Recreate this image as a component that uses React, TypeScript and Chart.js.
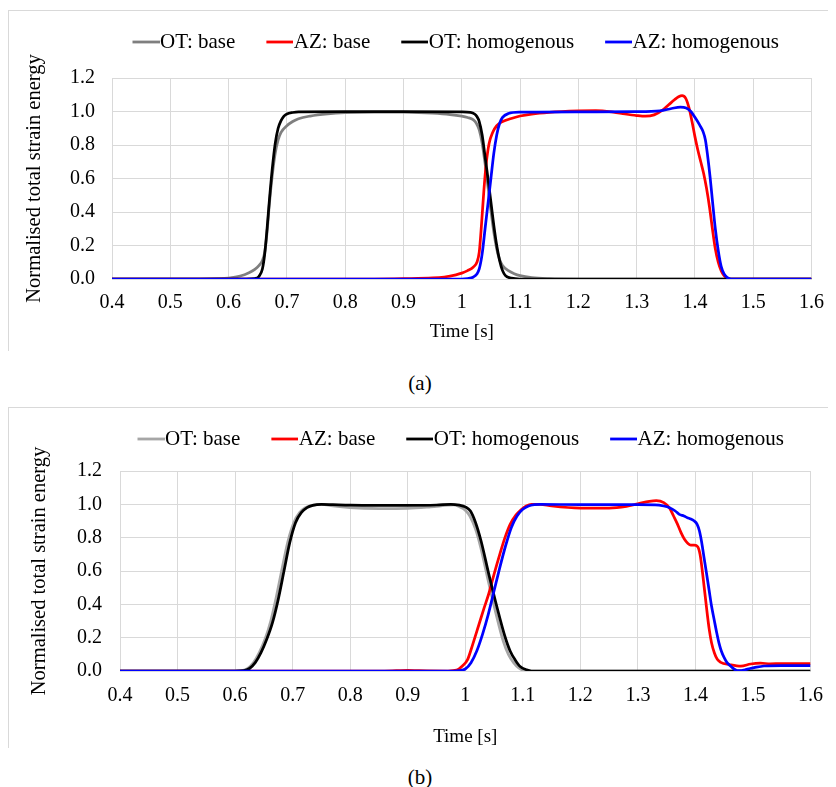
import { useEffect, useRef } from 'react';
import { Chart, registerables } from 'chart.js';

Chart.register(...registerables);

type Pt = [number, number];

// ---------- labels ----------
const seriesLabels = ['OT: base', 'AZ: base', 'OT: homogenous', 'AZ: homogenous'];
const xTickValues = [0.4, 0.5, 0.6, 0.7, 0.8, 0.9, 1.0, 1.1, 1.2, 1.3, 1.4, 1.5, 1.6];
const xTickLabels = ['0.4', '0.5', '0.6', '0.7', '0.8', '0.9', '1', '1.1', '1.2', '1.3', '1.4', '1.5', '1.6'];
const yTickValues = [0, 0.2, 0.4, 0.6, 0.8, 1.0, 1.2];
const yTickLabels = ['0.0', '0.2', '0.4', '0.6', '0.8', '1.0', '1.2'];
const xAxisTitle = 'Time [s]';
const yAxisTitle = 'Normalised total strain energy';
const captions = ['(a)', '(b)'];

// ---------- panel (a) data: [time s, normalised energy] ----------
const otBaseA: Pt[] = [
  [0.4, 0], [0.55, 0], [0.58, 0.002], [0.6, 0.006], [0.62, 0.018], [0.635, 0.038], [0.645, 0.058],
  [0.652, 0.08], [0.658, 0.11], [0.662, 0.16], [0.666, 0.28], [0.67, 0.45], [0.675, 0.62], [0.68, 0.75],
  [0.685, 0.83], [0.69, 0.875], [0.7, 0.915], [0.71, 0.94], [0.72, 0.957], [0.74, 0.973], [0.77, 0.986],
  [0.8, 0.993], [0.85, 0.997], [0.9, 0.996], [0.95, 0.99], [0.98, 0.982], [1.0, 0.972], [1.01, 0.964],
  [1.02, 0.95], [1.025, 0.93], [1.03, 0.89], [1.035, 0.81], [1.04, 0.69], [1.045, 0.55], [1.05, 0.41],
  [1.055, 0.28], [1.06, 0.18], [1.065, 0.115], [1.07, 0.08], [1.08, 0.05], [1.09, 0.032], [1.1, 0.02],
  [1.12, 0.008], [1.15, 0.002], [1.2, 0], [1.6, 0],
];
const azBaseA: Pt[] = [
  [0.4, 0], [0.85, 0], [0.9, 0.002], [0.95, 0.006], [0.97, 0.012], [0.99, 0.025], [1.0, 0.035],
  [1.01, 0.05], [1.02, 0.072], [1.026, 0.1], [1.03, 0.16], [1.034, 0.33], [1.038, 0.53], [1.042, 0.69],
  [1.047, 0.81], [1.053, 0.875], [1.06, 0.915], [1.07, 0.94], [1.085, 0.958], [1.1, 0.973], [1.12, 0.985],
  [1.15, 0.995], [1.2, 1.003], [1.23, 1.005], [1.26, 0.996], [1.28, 0.985], [1.3, 0.976], [1.315, 0.972],
  [1.33, 0.98], [1.345, 1.01], [1.355, 1.04], [1.365, 1.07], [1.372, 1.088], [1.378, 1.095], [1.384, 1.08],
  [1.39, 1.02], [1.395, 0.94], [1.4, 0.85], [1.405, 0.77], [1.41, 0.7], [1.415, 0.63], [1.42, 0.54],
  [1.425, 0.43], [1.43, 0.3], [1.435, 0.18], [1.44, 0.1], [1.445, 0.05], [1.45, 0.02], [1.455, 0.006],
  [1.46, 0], [1.6, 0],
];
const otHomA: Pt[] = [
  [0.4, 0], [0.63, 0], [0.645, 0.003], [0.652, 0.015], [0.658, 0.06], [0.662, 0.15], [0.666, 0.3],
  [0.67, 0.47], [0.675, 0.66], [0.68, 0.81], [0.685, 0.9], [0.69, 0.945], [0.695, 0.972], [0.7, 0.985],
  [0.71, 0.994], [0.72, 0.998], [0.8, 0.999], [0.9, 0.999], [1.0, 0.998], [1.015, 0.995], [1.022, 0.985],
  [1.026, 0.97], [1.03, 0.94], [1.035, 0.86], [1.04, 0.73], [1.045, 0.6], [1.05, 0.46], [1.055, 0.32],
  [1.06, 0.2], [1.065, 0.11], [1.07, 0.05], [1.075, 0.02], [1.085, 0.005], [1.1, 0], [1.6, 0],
];
const azHomA: Pt[] = [
  [0.4, 0], [1.0, 0], [1.01, 0.003], [1.02, 0.012], [1.026, 0.03], [1.03, 0.06], [1.035, 0.15],
  [1.04, 0.3], [1.045, 0.45], [1.05, 0.6], [1.055, 0.75], [1.06, 0.86], [1.065, 0.93], [1.07, 0.965],
  [1.08, 0.988], [1.1, 0.996], [1.2, 0.998], [1.3, 0.999], [1.34, 1.004], [1.36, 1.018], [1.375, 1.026],
  [1.385, 1.021], [1.393, 1.0], [1.4, 0.965], [1.408, 0.92], [1.414, 0.88], [1.418, 0.83], [1.422, 0.73],
  [1.426, 0.61], [1.43, 0.47], [1.435, 0.3], [1.44, 0.17], [1.445, 0.075], [1.45, 0.03], [1.455, 0.01],
  [1.462, 0], [1.6, 0],
];

// ---------- panel (b) data ----------
const otBaseB: Pt[] = [
  [0.4, 0], [0.6, 0], [0.612, 0.002], [0.622, 0.015], [0.632, 0.05], [0.642, 0.11], [0.652, 0.19],
  [0.662, 0.3], [0.672, 0.45], [0.682, 0.62], [0.692, 0.78], [0.702, 0.89], [0.712, 0.95], [0.722, 0.98],
  [0.735, 0.995], [0.75, 1.0], [0.77, 0.99], [0.8, 0.98], [0.85, 0.975], [0.9, 0.976], [0.94, 0.985],
  [0.97, 0.995], [0.98, 0.997], [0.99, 0.985], [1.0, 0.965], [1.008, 0.93], [1.018, 0.85], [1.027, 0.74],
  [1.04, 0.54], [1.053, 0.35], [1.066, 0.18], [1.075, 0.1], [1.084, 0.05], [1.093, 0.018], [1.1, 0.005],
  [1.11, 0], [1.6, 0],
];
const azBaseB: Pt[] = [
  [0.4, 0], [0.85, 0], [0.88, 0.002], [0.9, 0.004], [0.92, 0.002], [0.97, 0], [0.985, 0.005],
  [0.995, 0.03], [1.004, 0.068], [1.013, 0.16], [1.023, 0.27], [1.032, 0.37], [1.041, 0.465], [1.05, 0.58],
  [1.06, 0.7], [1.069, 0.8], [1.078, 0.88], [1.088, 0.935], [1.097, 0.968], [1.106, 0.99], [1.115, 1.0],
  [1.13, 1.0], [1.15, 0.99], [1.2, 0.978], [1.25, 0.978], [1.28, 0.988], [1.3, 1.003], [1.32, 1.018],
  [1.332, 1.022], [1.345, 1.01], [1.355, 0.978], [1.362, 0.93], [1.369, 0.88], [1.375, 0.83], [1.381, 0.79],
  [1.387, 0.765], [1.392, 0.755], [1.398, 0.755], [1.404, 0.745], [1.408, 0.7], [1.412, 0.6], [1.415, 0.51],
  [1.418, 0.42], [1.421, 0.33], [1.424, 0.25], [1.428, 0.17], [1.433, 0.108], [1.438, 0.07], [1.444, 0.052],
  [1.459, 0.039], [1.479, 0.029], [1.496, 0.042], [1.513, 0.047], [1.53, 0.043], [1.55, 0.045], [1.6, 0.045],
];
const otHomB: Pt[] = [
  [0.4, 0], [0.6, 0], [0.615, 0.002], [0.625, 0.015], [0.635, 0.05], [0.645, 0.11], [0.655, 0.19],
  [0.665, 0.29], [0.675, 0.43], [0.685, 0.6], [0.695, 0.77], [0.705, 0.89], [0.715, 0.95], [0.725, 0.98],
  [0.735, 0.994], [0.75, 1.0], [0.77, 0.998], [0.8, 0.995], [0.85, 0.994], [0.9, 0.994], [0.95, 0.996],
  [0.975, 1.0], [0.99, 0.995], [1.0, 0.985], [1.009, 0.96], [1.018, 0.89], [1.0275, 0.78], [1.041, 0.58],
  [1.055, 0.385], [1.069, 0.207], [1.078, 0.12], [1.087, 0.065], [1.096, 0.025], [1.106, 0.008], [1.115, 0],
  [1.6, 0],
];
const azHomB: Pt[] = [
  [0.4, 0], [0.98, 0], [0.99, 0.003], [1.0, 0.012], [1.01, 0.05], [1.02, 0.12], [1.03, 0.22], [1.04, 0.34],
  [1.05, 0.48], [1.06, 0.62], [1.07, 0.75], [1.08, 0.86], [1.09, 0.93], [1.1, 0.97], [1.11, 0.99],
  [1.12, 0.998], [1.13, 1.0], [1.2, 0.998], [1.3, 0.998], [1.33, 0.997], [1.345, 0.99], [1.355, 0.98],
  [1.365, 0.96], [1.372, 0.94], [1.38, 0.93], [1.386, 0.92], [1.392, 0.912], [1.398, 0.9], [1.403, 0.88],
  [1.407, 0.84], [1.411, 0.77], [1.415, 0.68], [1.42, 0.57], [1.424, 0.48], [1.428, 0.39], [1.433, 0.3],
  [1.437, 0.23], [1.441, 0.167], [1.445, 0.12], [1.45, 0.08], [1.455, 0.05], [1.461, 0.03], [1.467, 0.012],
  [1.473, 0.003], [1.48, 0.003], [1.485, 0.006], [1.495, 0.015], [1.502, 0.02], [1.519, 0.03], [1.55, 0.033],
  [1.6, 0.033],
];

// ---------- styling ----------
const FONT = '"Liberation Serif", "Times New Roman", serif';
const GRID = '#d9d9d9';
const CANVAS_W = 827;
const CANVAS_H = 340;

interface PanelSpec {
  series: Pt[][];
  colors: string[];
  top: number; // panel top in root coords
  plotLeft: number;
  plotRight: number;
  plotTop: number;
  plotBottom: number;
  xTickPad: number;
  xTitlePad: number;
  yTickPad: number;
  yTitlePad: number;
  legendLeft: number;
  legendTop: number;
}

const panels: PanelSpec[] = [
  {
    series: [otBaseA, azBaseA, otHomA, azHomA],
    colors: ['#7f7f7f', '#ff0000', '#000000', '#0000ff'],
    top: 2,
    plotLeft: 103,
    plotRight: 805,
    plotTop: 67,
    plotBottom: 268,
    xTickPad: 12,
    xTitlePad: 8,
    yTickPad: 17,
    yTitlePad: 13,
    legendLeft: 92.5,
    legendTop: 10.5,
  },
  {
    series: [otBaseB, azBaseB, otHomB, azHomB],
    colors: ['#a6a6a6', '#ff0000', '#000000', '#0000ff'],
    top: 399,
    plotLeft: 111,
    plotRight: 805,
    plotTop: 63,
    plotBottom: 263,
    xTickPad: 13,
    xTitlePad: 0,
    yTickPad: 18,
    yTitlePad: 18.5,
    legendLeft: 97.5,
    legendTop: 10.5,
  },
];

function makeSwatch(color: string): HTMLCanvasElement {
  const c = document.createElement('canvas');
  c.width = 58;
  c.height = 6;
  const ctx = c.getContext('2d')!;
  ctx.fillStyle = color;
  ctx.fillRect(31, 1.6, 27, 2.8);
  return c;
}

const legendPlacer = {
  id: 'legendPlacer',
  beforeLayout(chart: any) {
    const lg = chart.legend;
    if (lg && !lg.__placed) {
      const orig = lg.fit;
      lg.fit = function (this: any) {
        orig.call(this);
        this.height = 0;
      };
      lg.__placed = true;
    }
  },
  afterLayout(chart: any, _args: any, opts: any) {
    const lg = chart.legend;
    if (!lg) return;
    lg.left = opts.left;
    lg.right = opts.left + opts.width;
    lg.top = opts.top;
    lg.bottom = opts.top + opts.height;
    lg.width = opts.width;
    lg.height = opts.height;
  },
};

function Panel({ spec }: { spec: PanelSpec }) {
  const ref = useRef<HTMLCanvasElement>(null);
  useEffect(() => {
    const canvas = ref.current!;
    const swatches = spec.colors.map(makeSwatch);
    const chart = new Chart(canvas, {
      type: 'line',
      data: {
        datasets: spec.series.map((pts, i) => ({
          label: seriesLabels[i],
          data: pts.map(([x, y]) => ({ x, y })),
          borderColor: spec.colors[i],
          backgroundColor: spec.colors[i],
          borderWidth: 2.75,
          pointRadius: 0,
          pointHoverRadius: 0,
          fill: false,
          cubicInterpolationMode: 'monotone' as const,
          order: 4 - i,
        })),
      },
      options: {
        responsive: false,
        animation: false,
        events: [],
        layout: {
          padding: { top: spec.plotTop, left: 0, right: CANVAS_W - spec.plotRight, bottom: 0 },
        },
        plugins: {
          legend: {
            display: true,
            position: 'top',
            align: 'start',
            labels: {
              usePointStyle: true,
              pointStyleWidth: 38,
              padding: 10,
              color: '#000',
              font: { family: FONT, size: 21 },
              generateLabels: (ch: any) =>
                ch.data.datasets.map((ds: any, i: number) => ({
                  text: ds.label,
                  fillStyle: ds.borderColor,
                  strokeStyle: ds.borderColor,
                  lineWidth: 0,
                  pointStyle: swatches[i],
                  hidden: false,
                  datasetIndex: i,
                  fontColor: '#000',
                })),
            },
          },
          tooltip: { enabled: false },
          // @ts-ignore custom plugin options
          legendPlacer: { left: spec.legendLeft, top: spec.legendTop, width: 720, height: 45 },
        },
        scales: {
          x: {
            type: 'linear',
            min: 0.4,
            max: 1.6,
            afterBuildTicks: (s: any) => {
              s.ticks = xTickValues.map((v) => ({ value: v }));
            },
            afterFit: (s: any) => {
              s.height = CANVAS_H - spec.plotBottom;
            },
            ticks: {
              callback: (_v: any, i: number) => xTickLabels[i],
              font: { family: FONT, size: 20 },
              color: '#000',
              padding: spec.xTickPad,
              maxRotation: 0,
              autoSkip: false,
            },
            grid: { color: GRID, lineWidth: 1, drawTicks: false },
            border: { display: true, color: GRID },
            title: {
              display: true,
              text: xAxisTitle,
              font: { family: FONT, size: 19 },
              color: '#000',
              padding: { top: 0, bottom: spec.xTitlePad },
            },
          },
          y: {
            type: 'linear',
            min: 0,
            max: 1.2,
            afterBuildTicks: (s: any) => {
              s.ticks = yTickValues.map((v) => ({ value: v }));
            },
            afterFit: (s: any) => {
              s.width = spec.plotLeft;
            },
            ticks: {
              callback: (_v: any, i: number) => yTickLabels[i],
              font: { family: FONT, size: 20 },
              color: '#000',
              padding: spec.yTickPad,
            },
            grid: { color: GRID, lineWidth: 1, drawTicks: false },
            border: { display: true, color: GRID },
            title: {
              display: true,
              text: yAxisTitle,
              font: { family: FONT, size: 20.5 },
              color: '#000',
              padding: { top: spec.yTitlePad, bottom: 0 },
            },
          },
        },
      },
      plugins: [legendPlacer],
    } as any);
    return () => chart.destroy();
  }, [spec]);

  return (
    <div
      style={{
        position: 'absolute',
        left: 0,
        top: spec.top,
        width: 828,
        height: 341,
        boxSizing: 'border-box',
        borderLeft: `1px solid ${GRID}`,
        borderTop: `1px solid ${GRID}`,
        overflow: 'hidden',
        background: '#fff',
      }}
    >
      <canvas
        ref={ref}
        width={CANVAS_W}
        height={CANVAS_H}
        style={{ position: 'absolute', left: 0, top: 0, width: CANVAS_W, height: CANVAS_H, display: 'block' }}
      />
    </div>
  );
}

export default function App() {
  useEffect(() => {
    document.documentElement.style.overflow = 'hidden';
    document.body.style.overflow = 'hidden';
    document.body.style.margin = '8px 8px 0 8px';
  }, []);
  const captionStyle = {
    position: 'absolute' as const,
    left: 362,
    width: 100,
    textAlign: 'center' as const,
    fontFamily: FONT,
    fontSize: 21,
    lineHeight: '20px',
    color: '#000',
  };
  return (
    <div style={{ position: 'relative', width: 820, height: 779, background: '#fff' }}>
      <Panel spec={panels[0]} />
      <div style={{ ...captionStyle, top: 365 }}>{captions[0]}</div>
      <Panel spec={panels[1]} />
      <div style={{ ...captionStyle, top: 759 }}>{captions[1]}</div>
    </div>
  );
}
